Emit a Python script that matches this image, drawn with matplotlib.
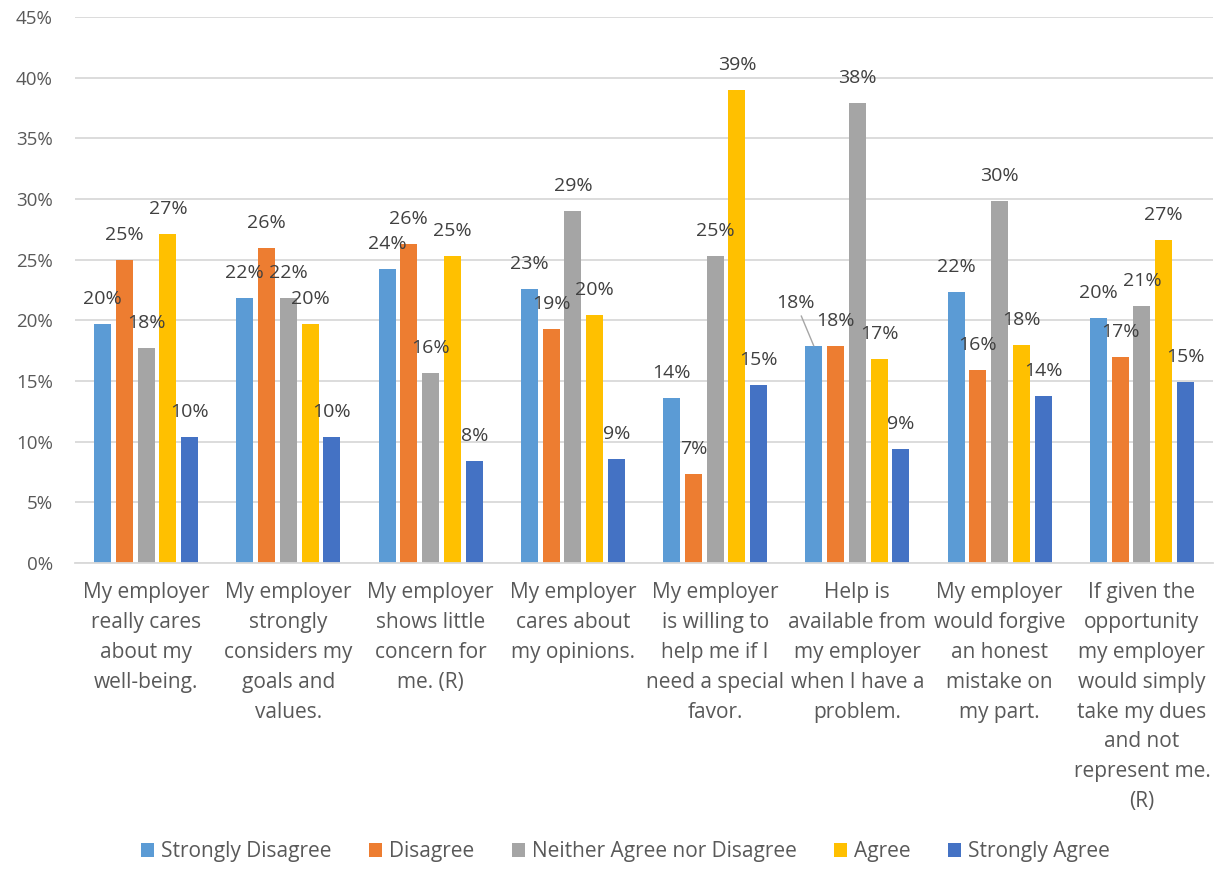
import matplotlib
matplotlib.use("Agg")
import matplotlib.pyplot as plt
import numpy as np

plt.rcParams['font.family'] = ['Open Sans', 'DejaVu Sans']

# === DATA ===
categories = [
    "My employer\nreally cares\nabout my\nwell-being.",
    "My employer\nstrongly\nconsiders my\ngoals and\nvalues.",
    "My employer\nshows little\nconcern for\nme. (R)",
    "My employer\ncares about\nmy opinions.",
    "My employer\nis willing to\nhelp me if I\nneed a special\nfavor.",
    "Help is\navailable from\nmy employer\nwhen I have a\nproblem.",
    "My employer\nwould forgive\nan honest\nmistake on\nmy part.",
    "If given the\nopportunity\nmy employer\nwould simply\ntake my dues\nand not\nrepresent me.\n(R)",
]
series_names = ["Strongly Disagree", "Disagree", "Neither Agree nor Disagree",
                "Agree", "Strongly Agree"]
strongly_disagree = [19.7, 21.8, 24.2, 22.6, 13.6, 17.9, 22.3, 20.2]
disagree = [25.0, 26.0, 26.3, 19.3, 7.3, 17.9, 15.9, 17.0]
neither = [17.7, 21.8, 15.7, 29.0, 25.3, 37.9, 29.8, 21.2]
agree = [27.1, 19.7, 25.3, 20.4, 39.0, 16.8, 18.0, 26.6]
strongly_agree = [10.4, 10.4, 8.4, 8.6, 14.7, 9.4, 13.8, 14.9]
yticks = [0, 5, 10, 15, 20, 25, 30, 35, 40, 45]

colors = ["#5B9BD5", "#ED7D31", "#A5A5A5", "#FFC000", "#4472C4"]
TXT = "#404040"
TICK = "#595959"

series = [strongly_disagree, disagree, neither, agree, strongly_agree]

fig = plt.figure(figsize=(12.17, 8.69), dpi=100)
ax = fig.add_axes([75 / 1217, 1 - 563 / 869, (1213 - 75) / 1217, (563 - 17) / 869])

x = np.arange(len(categories))
step = 0.1533
width = 0.1195

for j, (vals, name, c) in enumerate(zip(series, series_names, colors)):
    pos = x + (j - 2) * step
    ax.bar(pos, vals, width=width, color=c, label=name, zorder=2)
    for i, (px, v) in enumerate(zip(pos, vals)):
        if j == 0 and i == 5:
            # this label sits up and to the left, tied back with a leader line
            ax.annotate(f"{v:.0f}%", (px, v), xytext=(-18, 43),
                        textcoords="offset pixels", ha="center", va="center",
                        fontsize=14, color=TXT,
                        arrowprops=dict(arrowstyle="-", color="#A6A6A6", lw=1,
                                        shrinkA=1, shrinkB=0))
        else:
            ax.annotate(f"{v:.0f}%", (px, v), xytext=(0, 25),
                        textcoords="offset pixels", ha="center", va="center",
                        fontsize=14, color=TXT)

ax.set_xlim(-0.5, len(categories) - 0.5)
ax.set_ylim(0, 45)
ax.set_yticks(yticks)
ax.set_yticklabels([f"{t}%" for t in yticks], fontsize=13.5, color=TICK)
ax.set_xticks(x)
ax.set_xticklabels(categories, fontsize=15, color=TICK, linespacing=1.55)
ax.tick_params(axis="both", length=0)
ax.tick_params(axis="y", pad=16)
ax.tick_params(axis="x", pad=14)
ax.yaxis.grid(True, color="#D9D9D9", lw=1.3, zorder=0)
ax.set_axisbelow(True)
for s in ["top", "right", "left"]:
    ax.spines[s].set_visible(False)
ax.spines["bottom"].set_color("#D9D9D9")
ax.spines["bottom"].set_linewidth(1.3)

fig.legend(loc="center", bbox_to_anchor=(0.514, 0.02), ncol=5, frameon=False,
           fontsize=15, handlelength=0.63, handleheight=0.63, handletextpad=0.33,
           columnspacing=1.8, labelcolor=TICK)

fig.savefig("out.png", dpi=100)
